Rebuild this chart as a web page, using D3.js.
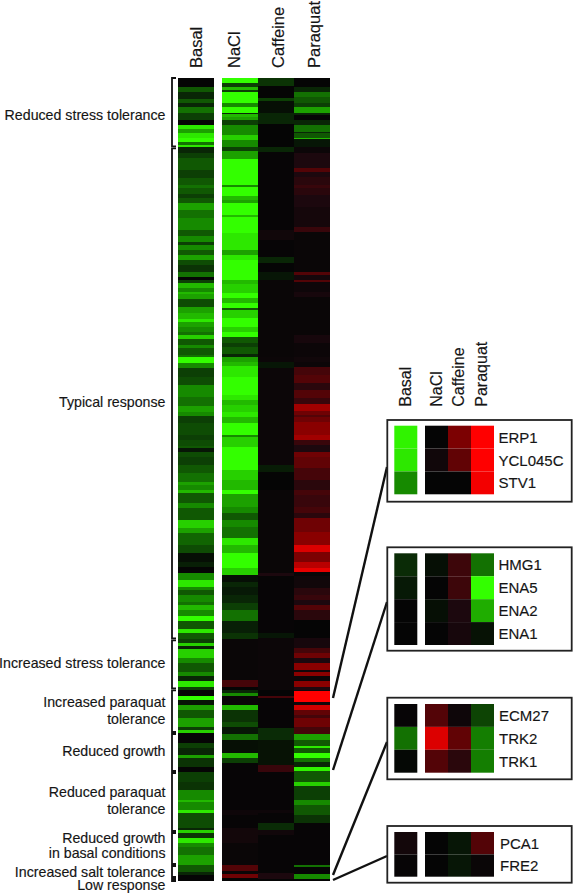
<!DOCTYPE html>
<html>
<head>
<meta charset="utf-8">
<script src="https://cdn.jsdelivr.net/npm/d3@7"></script>
<style>
  html, body { margin: 0; padding: 0; background: #fff; }
  svg { display: block; }
  text { font-family: "Liberation Sans", Arial, sans-serif; fill: #151515; stroke: #151515; stroke-width: 0.15; }
</style>
</head>
<body>
<div id="container"></div>
<script>
  const columns = ["Basal", "NaCl", "Caffeine", "Paraquat"];

  // main heatmap columns: [run length, value], value -10 (green) .. 10 (red)
  const basalRuns = [
    [28,0],[14,-3],[22,-1],[12,-3],[12,-1],[16,-4],[22,-2],[15,0],[13,-9],[12,-6],[15,-9],[12,-10],[7,-4],[8,-9],
    [18,-1],[15,-2],[35,-3],[25,-2],[20,-3],[10,-4],[17,-3],[12,-2],[16,-3],[20,-6],[25,-4],[35,-5],[17,-3],[18,-5],
    [10,-2],[15,-5],[15,-3],[15,-6],[15,-2.5],[20,-1.5],[15,-4],[10,0],
    [8,-2],[17,-7],[10,-5],[7,-7],[16,-6],[22,-2.5],[20,-6],[18,-7],[7,-9],[15,-6],[15,-5],[10,-4],[13,-8],[17,-3],
    [10,-5],[20,-3],[7,-4],[16,-10],[17,-5],[25,-2],[25,-2.5],[35,-5],[28,-4],[17,-6],[13,-5],[22,-2],[35,-2.5],
    [15,-2],[18,-2.5],[7,-3],[12,-0.5],[13,-2.5],[25,-2],[25,-3],[25,-4],[10,-6],[15,-5],
    [10,-7],[30,-3],[15,-5],[35,-3],[25,-8],[15,-6],[35,-3.5],[25,-2.5],[25,-0.3],[15,-0.8],[20,0],[20,-5],[20,-9],
    [10,-5],[15,-3],[20,-5],[10,-4],[15,-7],[18,-5],[14,-10],[26,-3],[12,-9],[18,-3],[10,-2],[10,-8],[10,-1],[27,-8],
    [15,-5],[25,-3],[12,-5],[15,-1],[20,-9],[8,-2],
    [17,0],[13,-10],[15,-0.5],[15,-6],[25,-3],[25,-6],[10,-2],[8,-8],[32,0],[15,-2],[20,-1],[8,-6],[27,-1.5],[15,0],
    [30,-2],[25,-1.5],[30,-5],[7,-7],[23,-5],[10,-9],[45,-2.5],[6,-1],[7,-8],[17,-1.5],[15,-9],[10,-5],[25,-4],[30,-6],
    [20,-3],[10,-1],[17,0]
  ];
  const naclRuns = [
    [14,-10],[12,-2],[10,-7],[5,-2],[33,-10],[14,-5],[16,-10],[5,-1],[7,-7],[10,-6],[15,-2],[30,-5],[15,-8],[22,-5],
    [10,-2],[26,-6],[77,-10],[7,-5],[26,-10],[12,-7],[8,-6],[37,-10],[5,-7],[50,-10],[50,-9],[15,-6],[15,-9],[60,-10],
    [12,-7],[28,-8],[15,-10],[13,-7],[17,-10],[5,-3],[25,-8],[25,-10],[15,-8],[17,-10],[18,-3],[10,-2],[22,-3],[10,-1],
    [13,-6],[13,-7],[32,-9],[55,-10],[15,-9],[15,-7],[20,-8],[15,-9],[20,-7],[35,-10],[7,-5],[28,-8],[70,-10],[30,-8],[30,-7],
    [12,-10],[38,-6],[20,-5],[20,-3],[20,-5],[35,-4],[20,-9],[25,-7],[45,-10],[20,-8],[20,-0.3],[15,-1],[25,-0.6],[25,-1],
    [20,-2],[32,-4],[38,-0.8],[18,-1.5],[122,0.2],[22,2.5],[8,0],
    [10,-1],[7,-5],[28,0.2],[15,-7],[35,-1.5],[15,-2.5],[23,-0.5],[17,-4],[40,-0.3],[15,-7],[15,-2],[140,0.1],[15,0.4],
    [40,0.1],[30,0.6],[15,0.6],[65,0.2],[17,3],[10,0.2],[13,4],[7,0]
  ];
  const caffeineRuns = [
    [24,-1.5],[37,0],[7,-2],[38,-0.3],[20,-1],[12,-1],[68,0],[15,-1],[235,0.1],[30,0.5],[50,0.1],[18,-1],[27,0],[25,-0.5],
    [230,0.2],[15,0.3],[20,-0.5],[290,0.3],[20,-0.7],[55,0],
    [250,0.2],[8,1],[172,0.1],[15,-0.5],[155,0.3],
    [17,0],[8,2.5],[90,0.1],[35,-1.2],[75,-0.4],[20,2],[115,0.1],[10,0.4],[30,0.1],[20,-1.2],[15,0.5],[115,0.1],[17,1],[5,0]
  ];
  const paraquatRuns = [
    [26,0],[15,-1],[17,-4],[16,-3],[14,-2],[16,-6],[7,-1],[15,0],[15,-1],[20,-4],[5,-1],[13,-3],[5,-7],[22,-0.5],[20,0.3],
    [45,1],[10,3],[15,1],[25,1.5],[10,2],[20,1.5],[35,1],[60,0.7],[15,2],[120,0.2],[10,3],[15,0.7],
    [5,3],[30,0.4],[15,0.8],[115,0.2],[25,0.8],[40,0.3],[15,0.5],[17,0.3],[23,2.5],[25,3],[20,1.5],[25,3],[17,2],[20,6],
    [13,4],[7,3],[13,4],[40,5],[15,6],[15,2],[20,1],[15,4],[35,3.5],[35,2.5],[15,1.5],[15,1.5],
    [15,2.5],[35,2],[20,2.5],[15,1.5],[40,4],[15,5],[25,5],[20,8.5],[30,4.5],[20,7],[10,9],[13,0.2],[37,0.5],[20,1.5],
    [15,2],[15,1],[15,3],[30,1.5],[55,0],[30,0.8],[15,2.5],[15,4],[15,1],[20,5],[6,0.5],[11,5],[15,0.3],[20,5],[8,1],
    [3,0.5],[34,10],[8,0.5],[15,8],[15,3.5],[10,2.5],[25,4],[10,2.5],[12,2.5],[18,-6],[18,-3],[7,-9],[15,-3],[15,-10],
    [12,-4],[13,-1],[12,-9.5],[35,-3],[11,-8],[42,-2],[15,-5],[30,-3],[25,-1.5],[125,0.1],[7,-4],[20,0],[15,-5],[5,0]
  ];

  // gene groups along the main heatmap, in the same run units
  const groupSpans = [208, 1476, 150, 131, 117, 180, 99, 39, 12];
  const groupLabels = [
    { lines: ["Reduced stress tolerance"], base: [120] },
    { lines: ["Typical response"], base: [407] },
    { lines: ["Increased stress tolerance"], base: [668] },
    { lines: ["Increased paraquat", "tolerance"], base: [707, 724] },
    { lines: ["Reduced growth"], base: [756] },
    { lines: ["Reduced paraquat", "tolerance"], base: [797, 814] },
    { lines: ["Reduced growth", "in basal conditions"], base: [843, 858] },
    { lines: ["Increased salt tolerance"], base: [877] },
    { lines: ["Low response"], base: [889.5] }
  ];

  // inset panels
  const panelGenes = [
    ["ERP1", "YCL045C", "STV1"],
    ["HMG1", "ENA5", "ENA2", "ENA1"],
    ["ECM27", "TRK2", "TRK1"],
    ["PCA1", "FRE2"]
  ];
  const panelValues = [
    [[-9.5, 0, 4.5, 10], [-9, 0.5, 3.5, 10], [-5, 0, 0, 9.5]],
    [[-1.2, -0.3, 2.2, -4], [-0.6, 0, 2.2, -10], [0, -0.3, 1, -6.5], [0, 0, 0.8, -0.4]],
    [[0.1, 3, 0.4, -2.2], [-4, 8.5, 3.5, -4.5], [-0.1, 3, 1.5, -4.5]],
    [[0.6, 0, -0.5, 3], [0.1, 0, -0.5, 0.2]]
  ];

  const width = 573;
  const height = 893;

  const svg = d3.create("svg")
      .attr("width", width)
      .attr("height", height);

  const color = d3.scaleLinear()
      .domain([-10, -5, -1, 0, 1, 5, 10])
      .range(["#33ff00", "#168a00", "#092606", "#050505", "#1c080e", "#8a0000", "#ff0000"])
      .clamp(true);

  // slight softening, the source is a scanned raster
  svg.append("defs").append("filter")
      .attr("id", "soft")
      .attr("x", "-0.02").attr("width", "1.04")
      .attr("y", "-0.01").attr("height", "1.02")
      .attr("color-interpolation-filters", "sRGB")
    .append("feGaussianBlur")
      .attr("stdDeviation", "0.3 0.55");

  // main heatmap
  const runsByColumn = [basalRuns, naclRuns, caffeineRuns, paraquatRuns];
  const total = d3.sum(paraquatRuns, d => d[0]);
  const y = d3.scaleLinear().domain([0, total]).range([78, 880.7]);
  const x = d3.scaleBand().domain(columns).range([185.7, 330]);
  const colLeft = d => x(d) - (d === "Basal" ? 7.7 : 0);

  const heat = svg.append("g").attr("filter", "url(#soft)");

  columns.forEach((name, i) => {
    const runs = runsByColumn[i];
    const scale = y.copy().domain([0, d3.sum(runs, d => d[0])]);
    let cum = 0;
    const cells = runs.map(r => {
      const c = { start: cum, end: cum + r[0], value: r[1] };
      cum += r[0];
      return c;
    });
    heat.append("g")
      .selectAll("rect")
      .data(cells)
      .join("rect")
        .attr("x", colLeft(name))
        .attr("width", x.bandwidth())
        .attr("y", d => scale(d.start))
        .attr("height", d => scale(d.end) - scale(d.start) + 0.4)
        .attr("fill", d => color(d.value))
        .attr("shape-rendering", "crispEdges");
  });

  // column labels, main
  svg.append("g")
    .selectAll("text")
    .data(columns)
    .join("text")
      .attr("transform", (d, i) => `translate(${[201.5, 240, 284, 320][i]},68) rotate(-90)`)
      .attr("font-size", 16.5)
      .text(d => d);

  // group brackets
  const gy = d3.scaleLinear().domain([0, d3.sum(groupSpans)]).range([78, 882]);
  const brackets = svg.append("g");
  let gc = 0;
  groupSpans.forEach((span, i) => {
    const y0 = gy(gc) + (i ? 1 : 0);
    const y1 = gy(gc + span) - 1;
    gc += span;
    brackets.append("path")
      .attr("d", `M176,${y0}H172V${y1}H176`)
      .attr("fill", "none")
      .attr("stroke", "#111")
      .attr("stroke-width", 1.8);
  });

  // group labels
  svg.append("g")
    .selectAll("text")
    .data(groupLabels.flatMap(g => g.lines.map((t, i) => ({ t, b: g.base[i] }))))
    .join("text")
      .attr("x", 165.5)
      .attr("y", d => d.b)
      .attr("text-anchor", "end")
      .attr("font-size", 14.2)
      .text(d => d.t);

  // leader lines from the heatmap to the panels
  const leaders = [
    [333, 698, 387, 467],
    [333, 770, 387, 602],
    [333, 875, 387, 742],
    [333, 880, 387, 856]
  ];
  svg.append("g")
    .selectAll("line")
    .data(leaders)
    .join("line")
      .attr("x1", d => d[0]).attr("y1", d => d[1])
      .attr("x2", d => d[2]).attr("y2", d => d[3])
      .attr("stroke", "#111")
      .attr("stroke-width", 2.4);

  // inset panels
  const panelBoxes = [
    { top: 420, bottom: 501.7, y0: 425.7, y1: 494.3, label: 498.5 },
    { top: 547.3, bottom: 650.7, y0: 553.3, y1: 645, label: 498.5 },
    { top: 697.7, bottom: 779.3, y0: 704, y1: 772.7, label: 499 },
    { top: 826, bottom: 882.7, y0: 832, y1: 876.7, label: 500 }
  ];
  const px = d3.scaleBand().domain(columns).range([402, 494]);
  const pxLeft = d => px(d) - (d === "Basal" ? 7.7 : 0);

  panelBoxes.forEach((box, p) => {
    const g = svg.append("g");
    g.append("rect")
      .attr("x", 387.3).attr("y", box.top)
      .attr("width", 184.4).attr("height", box.bottom - box.top)
      .attr("fill", "#fff")
      .attr("stroke", "#222")
      .attr("stroke-width", 1.8);

    const py = d3.scaleBand().domain(panelGenes[p]).range([box.y0, box.y1]);
    panelGenes[p].forEach((gene, r) => {
      g.append("g")
        .selectAll("rect")
        .data(panelValues[p][r])
        .join("rect")
          .attr("x", (d, i) => pxLeft(columns[i]))
          .attr("y", py(gene))
          .attr("width", px.bandwidth())
          .attr("height", py.bandwidth())
          .attr("fill", d => color(d));
      g.append("text")
        .attr("x", box.label)
        .attr("y", py(gene) + py.bandwidth() / 2 + 5.5)
        .attr("font-size", 15)
        .text(gene);
    });
  });

  // column labels, panels
  svg.append("g")
    .selectAll("text")
    .data(columns)
    .join("text")
      .attr("transform", (d, i) => `translate(${[410.7, 441.7, 464, 487][i]},406.7) rotate(-90)`)
      .attr("font-size", 16)
      .text(d => d);

  container.append(svg.node());
</script>
</body>
</html>
